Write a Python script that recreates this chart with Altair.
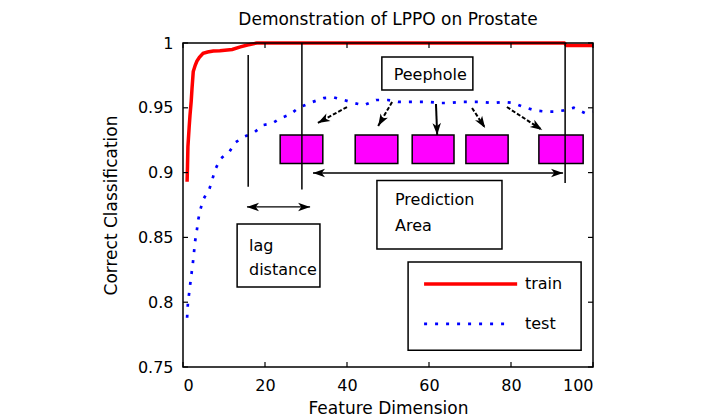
import math
import altair as alt
import pandas as pd

W, H = 410, 324
FONT = "DejaVu Sans"

# ---------------- data ----------------
train_x = [1, 1.1, 1.2, 1.5, 1.7, 2.0, 2.2, 2.5, 3.0, 3.4, 4.0, 4.9, 6.0, 7.4, 9.0, 10.8, 12.0, 14.0, 15.7, 18.0, 20, 30, 40, 50, 60, 70, 80, 90, 93, 93.6, 96, 100]
train_y = [0.893, 0.905, 0.920, 0.935, 0.944, 0.955, 0.965, 0.978, 0.983, 0.986, 0.989, 0.992, 0.993, 0.9938, 0.994, 0.9946, 0.995, 0.997, 0.9985, 1.0, 1.0, 1.0, 1.0, 1.0, 1.0, 1.0, 1.0, 1.0, 1.0, 0.998, 0.998, 0.998]

test_x = [1, 1.2, 1.5, 1.8, 2.1, 2.4, 2.7, 2.9, 3.4, 3.7, 4.2, 4.9, 5.6, 6.4, 7.1, 7.8, 9.1, 10, 11.3, 12.7, 14.7, 17.2, 19.6, 21.8, 23.8, 26.2, 28.2, 31.6, 34.3, 36.8, 39.2, 41.7, 44.1, 47.1, 50, 52.5, 55, 57.6, 60, 62.5, 65, 67.9, 70.3, 72.8, 75.7, 78.2, 80.6, 83.1, 85.8, 88.7, 90.5, 92.9, 95.3, 98, 100]
test_y = [0.788, 0.7994, 0.807, 0.815, 0.8225, 0.830, 0.839, 0.846, 0.856, 0.8634, 0.871, 0.879, 0.883, 0.887, 0.894, 0.902, 0.9105, 0.913, 0.916, 0.923, 0.9275, 0.9306, 0.9367, 0.938, 0.942, 0.945, 0.950, 0.9545, 0.9575, 0.958, 0.956, 0.9537, 0.952, 0.956, 0.956, 0.9545, 0.9545, 0.9545, 0.9545, 0.9537, 0.9537, 0.9545, 0.9545, 0.9545, 0.9537, 0.9545, 0.9537, 0.9506, 0.948, 0.947, 0.947, 0.948, 0.950, 0.946, 0.947]

x_ticks = [0, 20, 40, 60, 80, 100]
y_ticks = [0.75, 0.8, 0.85, 0.9, 0.95, 1.0]

vline_x = [15.9, 29.0, 93.2]
vline_top = [0.9907, 1.0, 1.0]
vline_bottom = [0.889, 0.887, 0.892]

peep_x0 = [23.7, 42.0, 55.9, 69.0, 86.8]
peep_x1 = [34.1, 52.4, 66.1, 79.3, 97.6]
peep_y0 = [0.907] * 5
peep_y1 = [0.929] * 5

box_x0 = [48.5, 47.3, 13.2, 54.9]
box_x1 = [70.7, 77.8, 33.4, 97.1]
box_y0 = [0.9637, 0.841, 0.8117, 0.763]
box_y1 = [0.9892, 0.894, 0.8603, 0.831]

label_text = ["Prediction", "Area", "lag", "distance", "train", "test"]
label_x = [51.7, 51.7, 16.1, 16.1, 83.4, 83.4]
label_y = [0.8789, 0.8588, 0.8434, 0.8248, 0.814, 0.7832]

peephole_text = ["Peephole"]
peephole_x = [60.3]
peephole_y = [0.9755]

arrow_x0 = [40.0, 51.0, 61.7, 70.5, 79.0]
arrow_y0 = [0.9506, 0.9545, 0.9529, 0.9498, 0.9506]
arrow_x1 = [32.9, 47.6, 62.0, 73.7, 87.6]
arrow_y1 = [0.9383, 0.9360, 0.9290, 0.9344, 0.9329]
arrow_dashed = [True, True, False, True, True]

span_x0 = [15.6, 31.7]
span_x1 = [31.0, 92.7]
span_y = [0.8735, 0.8997]

legend_x0 = [58.8, 58.8]
legend_x1 = [81.5, 79.8]
legend_y = [0.814, 0.7832]

# ---------------- scales ----------------
xs = alt.Scale(domain=[0, 100], nice=False, zero=False)
ys = alt.Scale(domain=[0.75, 1.0], nice=False, zero=False)
X = lambda f: alt.X(f, type="quantitative", scale=xs)
Y = lambda f: alt.Y(f, type="quantitative", scale=ys)

train_df = pd.DataFrame({"x": train_x, "y": train_y})
test_df = pd.DataFrame({"x": test_x, "y": test_y})

axis_x = alt.Axis(values=x_ticks, title="Feature Dimension", ticks=False, domain=False, grid=False,
                  labelFont=FONT, labelFontSize=16, labelColor="black", labelPadding=10,
                  titleFont=FONT, titleFontSize=17, titleFontWeight="normal", titleColor="black", titlePadding=7)
axis_y = alt.Axis(values=y_ticks, format="~g", title="Correct Classification", ticks=False, domain=False, grid=False,
                  labelFont=FONT, labelFontSize=16, labelColor="black", labelPadding=10,
                  titleFont=FONT, titleFontSize=17, titleFontWeight="normal", titleColor="black", titlePadding=17)

train = alt.Chart(train_df).mark_line(color="#ff0000", strokeWidth=3.5).encode(
    x=alt.X("x:Q", scale=xs, axis=axis_x), y=alt.Y("y:Q", scale=ys, axis=axis_y))
test = alt.Chart(test_df).mark_line(color="#0000ff", strokeWidth=2.7, strokeDash=[3, 8]).encode(
    x=X("x"), y=Y("y"))

vdf = pd.DataFrame({"x": vline_x, "y": vline_top, "y2": vline_bottom})
vlines = alt.Chart(vdf).mark_rule(color="black", strokeWidth=1.5).encode(x=X("x"), y=Y("y"), y2="y2")

pdf = pd.DataFrame({"x": peep_x0, "x2": peep_x1, "y": peep_y0, "y2": peep_y1})
peeps = alt.Chart(pdf).mark_rect(fill="#ff00ff", stroke="black", strokeWidth=1.5).encode(
    x=X("x"), x2="x2", y=Y("y"), y2="y2")

bdf = pd.DataFrame({"x": box_x0, "x2": box_x1, "y": box_y0, "y2": box_y1})
boxes = alt.Chart(bdf).mark_rect(fill="white", stroke="black", strokeWidth=1.5).encode(
    x=X("x"), x2="x2", y=Y("y"), y2="y2")

ldf = pd.DataFrame({"t": label_text, "x": label_x, "y": label_y})
labels = alt.Chart(ldf).mark_text(font=FONT, fontSize=16, align="left", baseline="middle", color="black").encode(
    x=X("x"), y=Y("y"), text="t:N")
pkdf = pd.DataFrame({"t": peephole_text, "x": peephole_x, "y": peephole_y})
plabel = alt.Chart(pkdf).mark_text(font=FONT, fontSize=16, align="center", baseline="middle", color="black").encode(
    x=X("x"), y=Y("y"), text="t:N")

adf = pd.DataFrame({"x": arrow_x0, "y": arrow_y0, "x2": arrow_x1, "y2": arrow_y1, "dashed": arrow_dashed})
arrows_d = alt.Chart(adf[adf.dashed]).mark_rule(color="black", strokeWidth=2, strokeDash=[4, 2]).encode(
    x=X("x"), y=Y("y"), x2="x2", y2="y2")
arrows_s = alt.Chart(adf[~adf.dashed]).mark_rule(color="black", strokeWidth=2).encode(
    x=X("x"), y=Y("y"), x2="x2", y2="y2")

sdf = pd.DataFrame({"x": span_x0, "x2": span_x1, "y": span_y})
spans = alt.Chart(sdf).mark_rule(color="black", strokeWidth=1.3).encode(x=X("x"), x2="x2", y=Y("y"))


def ang(x0, y0, x1, y1):
    dx = (x1 - x0) * W / 100.0
    dy = -(y1 - y0) * H / 0.25
    return math.degrees(math.atan2(dx, -dy)) % 360


heads = []
for a, b, c, d in zip(arrow_x0, arrow_y0, arrow_x1, arrow_y1):
    heads.append({"x": c, "y": d, "angle": ang(a, b, c, d)})
for a, c, yy in zip(span_x0, span_x1, span_y):
    heads.append({"x": a, "y": yy, "angle": 270.0})
    heads.append({"x": c, "y": yy, "angle": 90.0})
hdf = pd.DataFrame(heads)
HEAD = "M0,0 L0.6,1.7 L0,1.25 L-0.6,1.7 Z"
arrowheads = alt.Chart(hdf).mark_point(shape=HEAD, filled=True, color="black", opacity=1, size=200).encode(
    x=X("x"), y=Y("y"), angle=alt.Angle("angle:Q", scale=None))

legdf = pd.DataFrame({"x": legend_x0, "x2": legend_x1, "y": legend_y})
leg_train = alt.Chart(legdf.iloc[[0]]).mark_rule(color="#ff0000", strokeWidth=3.5).encode(x=X("x"), x2="x2", y=Y("y"))
leg_test = alt.Chart(legdf.iloc[[1]]).mark_rule(color="#0000ff", strokeWidth=2.7, strokeDash=[3, 8]).encode(x=X("x"), x2="x2", y=Y("y"))

# inward ticks on all four sides
xtdf = pd.DataFrame({"v": x_ticks})
ytdf = pd.DataFrame({"v": y_ticks})
tk = dict(color="black", strokeWidth=1.2)
tb = alt.Chart(xtdf).mark_rule(**tk).encode(x=X("v"), y=alt.value(H), y2=alt.value(H - 5))
tt = alt.Chart(xtdf).mark_rule(**tk).encode(x=X("v"), y=alt.value(0), y2=alt.value(5))
tl = alt.Chart(ytdf).mark_rule(**tk).encode(y=Y("v"), x=alt.value(0), x2=alt.value(5))
tr = alt.Chart(ytdf).mark_rule(**tk).encode(y=Y("v"), x=alt.value(W - 5), x2=alt.value(W))

frame = alt.Chart(pd.DataFrame({"k": [0]})).mark_rect(fill="transparent", stroke="black", strokeWidth=1.5).encode(
    x=alt.value(0), x2=alt.value(W), y=alt.value(0), y2=alt.value(H))

chart = alt.layer(
    train, test, peeps, vlines, arrows_d, arrows_s, spans, arrowheads,
    boxes, labels, plabel, leg_train, leg_test, tb, tt, tl, tr, frame
).properties(
    width=W, height=H,
    title=alt.Title("Demonstration of LPPO on Prostate", font=FONT, fontSize=17, fontWeight="normal",
                    color="black", anchor="middle", offset=6),
    autosize=alt.AutoSizeParams(type="none"),
    padding={"left": 183, "top": 43, "right": 124, "bottom": 50},
    background="white",
).configure_view(stroke=None)

chart.save("out.html", embed_options={"renderer": "svg", "actions": False})
